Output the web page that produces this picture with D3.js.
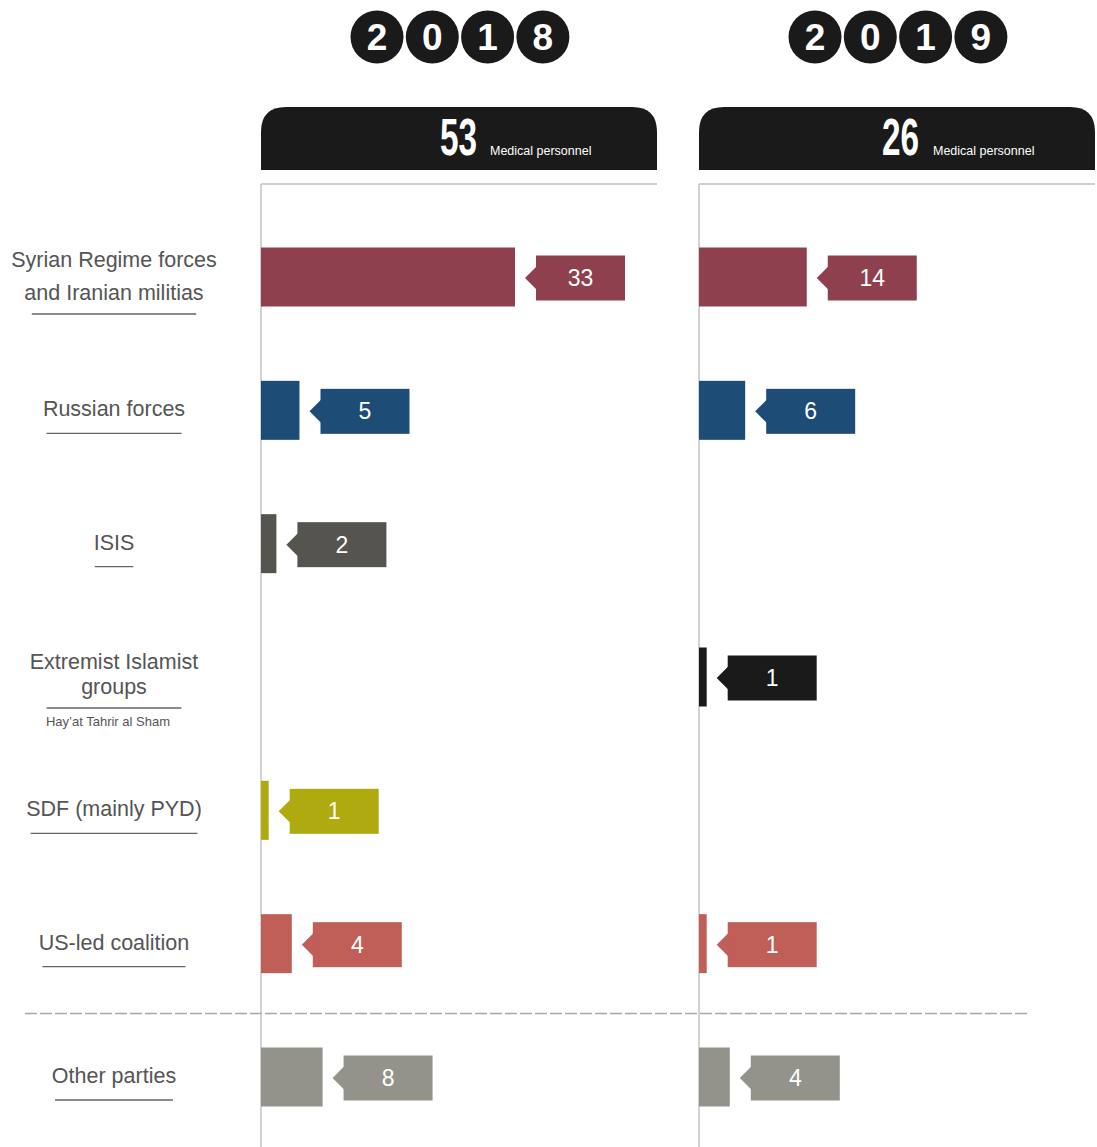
<!DOCTYPE html>
<html><head><meta charset="utf-8">
<script src="https://cdn.jsdelivr.net/npm/d3@7"></script>
<style>body{margin:0;background:#fff}svg{display:block}</style>
</head><body>
<script>
const categories = ["Syrian Regime forces and Iranian militias","Russian forces","ISIS","Extremist Islamist groups","SDF (mainly PYD)","US-led coalition","Other parties"];
const labelLines = [["Syrian Regime forces","and Iranian militias"],["Russian forces"],["ISIS"],["Extremist Islamist","groups"],["SDF (mainly PYD)"],["US-led coalition"],["Other parties"]];
const subLabels = ["","","","Hay’at Tahrir al Sham","","",""];
const colors = ["#8f404f","#1d4c77","#55544e","#1a1a1a","#aeaa10","#bf5f57","#93938b"];
const years = ["2018","2019"];
const totals = [53, 26];
const values2018 = [33,5,2,null,1,4,8];
const values2019 = [14,6,null,1,null,1,4];
const seriesValues = [values2018, values2019];

const W = 1097, H = 1147;
const svg = d3.select("body").append("svg").attr("width",W).attr("height",H);
const font = "'Liberation Sans', Arial, Helvetica, sans-serif";

const panelX = d3.scaleOrdinal().domain(years).range([261, 699]);
const panelW = 396;
const y = d3.scalePoint().domain(categories).range([277, 1077]);
const x = d3.scaleLinear().domain([0, 33]).range([0, 254]);
const barH = 59, boxW = 89, boxH = 45, gap = 20;

// year circles
years.forEach((yr, i) => {
  const cx0 = panelX(yr) + 116;
  const g = svg.append("g");
  yr.split("").forEach((d, j) => {
    const cx = cx0 + j * 55.3;
    g.append("circle").attr("cx", cx).attr("cy", 37).attr("r", 26.5).attr("fill", "#1a1a1a");
    g.append("text").attr("x", cx).attr("y", 50).attr("text-anchor","middle")
      .attr("font-family", font).attr("font-weight","bold").attr("font-size", 37)
      .attr("fill","#fff").text(d);
  });
});

// panels
years.forEach((yr, i) => {
  const px = panelX(yr);
  const r = 25, top = 107, bot = 170;
  svg.append("path").attr("fill","#1a1a1a")
    .attr("d", `M${px},${bot} L${px},${top+r} Q${px},${top} ${px+r},${top} L${px+panelW-r},${top} Q${px+panelW},${top} ${px+panelW},${top+r} L${px+panelW},${bot} Z`);
  const tx = px + 179 + i * 4;
  svg.append("text").attr("transform", `translate(${tx},155) scale(0.64,1)`)
    .attr("font-family", font).attr("font-weight","bold").attr("font-size", 52)
    .attr("fill","#fff").text(totals[i]);
  svg.append("text").attr("x", px + 229 + i * 5).attr("y", 155)
    .attr("font-family", font).attr("font-size", 12.5).attr("fill","#fff").text("Medical personnel");
  svg.append("line").attr("x1", px).attr("x2", px + panelW).attr("y1", 184).attr("y2", 184)
    .attr("stroke","#cfcfcf").attr("stroke-width",2);
  svg.append("line").attr("x1", px).attr("x2", px).attr("y1", 184).attr("y2", H)
    .attr("stroke","#c4c4c4").attr("stroke-width",1.5);
});

// dashed separator
svg.append("line").attr("x1", 25).attr("x2", 1028).attr("y1", 1013.5).attr("y2", 1013.5)
  .attr("stroke","#a8a8a8").attr("stroke-width",1.3).attr("stroke-dasharray","12,3");

// bars
years.forEach((yr, i) => {
  const px = panelX(yr);
  const vals = seriesValues[i];
  categories.forEach((c, k) => {
    const v = vals[k];
    if (v == null) return;
    const cy = y(c);
    const w = x(v);
    svg.append("rect").attr("x", px).attr("y", cy - barH/2).attr("width", w).attr("height", barH).attr("fill", colors[k]);
    const bx = px + w + gap + 1;
    svg.append("rect").attr("x", bx).attr("y", cy - boxH/2 + 1).attr("width", boxW).attr("height", boxH).attr("fill", colors[k]);
    svg.append("path").attr("d", `M${bx+1},${cy-11} L${bx-11},${cy+1} L${bx+1},${cy+13} Z`).attr("fill", colors[k]);
    svg.append("text").attr("x", bx + boxW/2).attr("y", cy + 9).attr("text-anchor","middle")
      .attr("font-family", font).attr("font-size", 23).attr("fill","#fff").text(v);
  });
});

// row labels
categories.forEach((c, k) => {
  const cy = y(c);
  const lines = labelLines[k];
  const lx = 114;
  const g = svg.append("g");
  const spacing = k === 0 ? 33 : 25;
  const multi = lines.length > 1;
  const firstBase = multi ? (k === 0 ? cy - 10 : cy - 8) : cy + 6;
  let maxW = 0;
  lines.forEach((ln, j) => {
    const t = g.append("text").attr("x", lx).attr("y", firstBase + j * spacing).attr("text-anchor","middle")
      .attr("font-family", font).attr("font-size", 21.5).attr("fill","#555").text(ln);
    maxW = Math.max(maxW, t.node().getComputedTextLength());
  });
  const underY = firstBase + (lines.length - 1) * spacing + (multi ? 14 : 17);
  const uw = multi ? maxW * 0.8 : maxW * 0.95;
  g.append("line").attr("x1", lx - uw/2).attr("x2", lx + uw/2).attr("y1", underY).attr("y2", underY)
    .attr("stroke","#666").attr("stroke-width",1.3);
  if (subLabels[k]) {
    g.append("text").attr("x", lx - 6).attr("y", underY + 18).attr("text-anchor","middle")
      .attr("font-family", font).attr("font-size", 13).attr("fill","#555").text(subLabels[k]);
  }
});
</script>
</body></html>
